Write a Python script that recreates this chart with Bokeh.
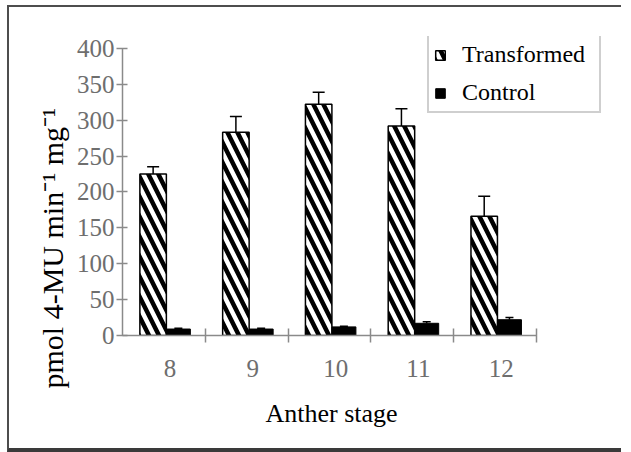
from bokeh.plotting import figure
from bokeh.layouts import column
from bokeh.models import (ColumnDataSource, FixedTicker, Whisker, TeeHead, Legend,
                          LegendItem, Title, Range1d)
from bokeh.embed import file_html
from bokeh.resources import INLINE

# ---- data ----
stages = ["8", "9", "10", "11", "12"]
transformed = [225, 283, 322, 292, 166]
transformed_err = [10, 22, 17, 24, 28]
control = [9, 9, 12, 17, 22]
control_err = [1, 1, 1, 2, 3]
y_ticks = [0, 50, 100, 150, 200, 250, 300, 350, 400]

SERIF = "Liberation Serif"
AXIS_GRAY = "#8a8a8a"
LABEL_GRAY = "#6e6e6e"

idx = list(range(len(stages)))
t_src = ColumnDataSource(dict(
    x=[i - 0.205 for i in idx], top=transformed,
    upper=[v + e for v, e in zip(transformed, transformed_err)]))
c_src = ColumnDataSource(dict(
    x=[i + 0.10 for i in idx], top=control,
    upper=[v + e for v, e in zip(control, control_err)]))

# frame is wider / taller than the axes so the legend can sit partly outside them
p = figure(width=612, height=441, output_backend="svg", toolbar_location=None,
           x_range=Range1d(-0.575, 5.345), y_range=Range1d(0, 416.5),
           min_border_left=113, min_border_top=29, min_border_right=9,
           min_border_bottom=113)
p.outline_line_color = None
p.grid.visible = False
p.background_fill_color = "white"
p.border_fill_color = "white"

t_r = p.vbar(x="x", top="top", width=0.32, source=t_src, fill_color="white",
             line_color="black", line_width=1.5, hatch_pattern="\\",
             hatch_color="black", hatch_scale=20, hatch_weight=4.5)
c_r = p.vbar(x="x", top="top", width=0.29, source=c_src, fill_color="black",
             line_color="black", line_width=1)

p.add_layout(Whisker(source=t_src, base="x", upper="upper", lower="top",
                     upper_head=TeeHead(size=12, line_width=1.5, line_color="black"),
                     lower_head=None, line_width=1.5, line_color="black"))
p.add_layout(Whisker(source=c_src, base="x", upper="upper", lower="top",
                     upper_head=TeeHead(size=8, line_width=1.5, line_color="black"),
                     lower_head=None, line_width=1.5, line_color="black"))

# x axis: labels at category centres, boundary ticks as minor ticks
xa = p.xaxis[0]
xa.bounds = (-0.575, len(stages) - 0.575)
xa.ticker = FixedTicker(ticks=idx, minor_ticks=[i + 0.425 for i in idx])
xa.major_label_overrides = {i: s for i, s in zip(idx, stages)}
xa.major_tick_in = 0
xa.major_tick_out = 0
xa.minor_tick_in = 7
xa.minor_tick_out = 7
xa.minor_tick_line_color = AXIS_GRAY
xa.minor_tick_line_width = 1.5
xa.axis_line_color = AXIS_GRAY
xa.axis_line_width = 1.5
xa.major_label_text_font = SERIF
xa.major_label_text_font_size = "25px"
xa.major_label_text_color = LABEL_GRAY
xa.major_label_standoff = 17

ya = p.yaxis[0]
ya.bounds = (0, 400)
ya.ticker = FixedTicker(ticks=y_ticks)
ya.minor_tick_line_color = None
ya.major_tick_in = 5
ya.major_tick_out = 6
ya.major_tick_line_color = AXIS_GRAY
ya.major_tick_line_width = 1.5
ya.axis_line_color = AXIS_GRAY
ya.axis_line_width = 1.5
ya.major_label_text_font = SERIF
ya.major_label_text_font_size = "25px"
ya.major_label_text_color = LABEL_GRAY
ya.major_label_standoff = 2

# axis titles as side-panel titles so they can be placed along the axis
p.add_layout(Title(text="pmol 4-MU min\u207b\u00b9 mg\u207b\u00b9", align="left",
                   offset=-53, text_font=SERIF, text_font_size="30px",
                   text_font_style="normal", text_color="black", standoff=10),
             "left")
p.add_layout(Title(text="Anther stage", align="left", offset=143,
                   text_font=SERIF, text_font_size="26px",
                   text_font_style="normal", text_color="black", standoff=34),
             "below")

legend = Legend(items=[LegendItem(label="Transformed", renderers=[t_r]),
                       LegendItem(label="Control", renderers=[c_r])],
                location=(305, 222), label_text_font=SERIF,
                label_text_font_size="24px", label_text_color="black",
                glyph_width=12, glyph_height=12, label_standoff=16,
                label_width=132, padding=5, margin=0, spacing=11,
                border_line_color="#a0a0a0", border_line_width=2,
                background_fill_color="white", background_fill_alpha=1.0)
p.add_layout(legend)

page = column(p, styles={"border-left": "2px solid #4d4d4d",
                         "border-top": "2px solid #4d4d4d",
                         "border-bottom": "4px solid #3a3a3a",
                         "margin-left": "7px", "margin-top": "5px"})

open("out.html", "w").write(file_html(page, INLINE))
